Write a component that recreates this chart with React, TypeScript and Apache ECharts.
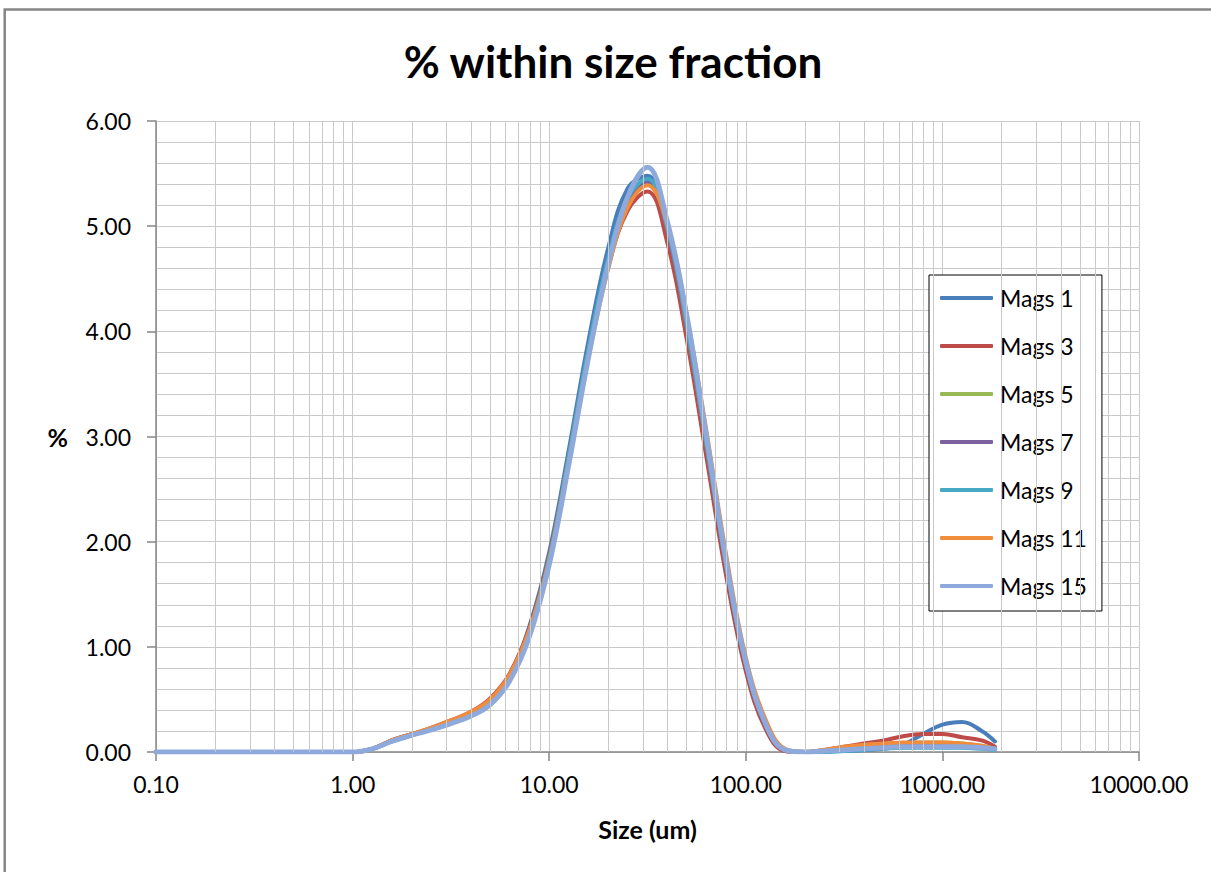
import React, { useEffect, useRef } from "react";
import * as echarts from "echarts";

const sizes = [
  0.1, 0.126, 0.158, 0.2, 0.251, 0.316, 0.398, 0.501, 0.631, 0.794,
  1, 1.26, 1.58, 2.0, 2.51, 3.16, 3.98, 5.01, 6.31, 7.94,
  10, 12.6, 15.8, 20, 25.1, 31.6, 39.8, 50.1, 63.1, 79.4,
  100, 126, 158, 200, 251, 316, 398, 501, 631, 794,
  1000, 1259, 1585, 1850,
];

const mags1 = [
  0, 0, 0, 0, 0, 0, 0, 0, 0, 0, 0,
  0.03, 0.11, 0.17, 0.22, 0.29, 0.37, 0.49, 0.74, 1.2,
  1.9, 2.88, 3.9, 4.8, 5.36, 5.48, 4.95, 4.05, 2.9, 1.74,
  0.8, 0.24, 0.01, 0, 0.01, 0.01, 0.02, 0.03, 0.07, 0.17,
  0.26, 0.285, 0.2, 0.1,
];
const mags3 = [
  0, 0, 0, 0, 0, 0, 0, 0, 0, 0, 0,
  0.03, 0.11, 0.17, 0.23, 0.3, 0.38, 0.51, 0.75, 1.18,
  1.86, 2.82, 3.8, 4.62, 5.15, 5.33, 4.85, 3.92, 2.8, 1.68,
  0.77, 0.22, 0.01, 0, 0.02, 0.05, 0.08, 0.11, 0.15, 0.17,
  0.17, 0.14, 0.11, 0.05,
];
const mags5 = [
  0, 0, 0, 0, 0, 0, 0, 0, 0, 0, 0,
  0.03, 0.1, 0.16, 0.22, 0.28, 0.36, 0.48, 0.72, 1.15,
  1.83, 2.8, 3.8, 4.68, 5.25, 5.44, 4.98, 4.05, 2.92, 1.78,
  0.84, 0.26, 0.02, 0, 0.01, 0.02, 0.04, 0.06, 0.08, 0.09,
  0.09, 0.08, 0.06, 0.03,
];
const mags7 = [
  0, 0, 0, 0, 0, 0, 0, 0, 0, 0, 0,
  0.03, 0.1, 0.16, 0.22, 0.28, 0.36, 0.48, 0.72, 1.15,
  1.83, 2.8, 3.79, 4.66, 5.24, 5.42, 4.97, 4.05, 2.92, 1.77,
  0.83, 0.25, 0.02, 0, 0.01, 0.02, 0.03, 0.05, 0.06, 0.07,
  0.07, 0.06, 0.05, 0.03,
];
const mags9 = [
  0, 0, 0, 0, 0, 0, 0, 0, 0, 0, 0,
  0.03, 0.1, 0.16, 0.22, 0.28, 0.36, 0.48, 0.72, 1.16,
  1.84, 2.82, 3.82, 4.7, 5.27, 5.45, 4.99, 4.06, 2.93, 1.78,
  0.84, 0.26, 0.02, 0, 0, 0.01, 0.02, 0.03, 0.04, 0.04,
  0.04, 0.04, 0.03, 0.02,
];
const mags11 = [
  0, 0, 0, 0, 0, 0, 0, 0, 0, 0, 0,
  0.03, 0.11, 0.17, 0.23, 0.3, 0.38, 0.5, 0.74, 1.16,
  1.82, 2.76, 3.74, 4.6, 5.18, 5.39, 5.02, 4.15, 3.05, 1.88,
  0.9, 0.31, 0.03, 0, 0.02, 0.05, 0.07, 0.08, 0.09, 0.09,
  0.09, 0.08, 0.06, 0.03,
];
const mags15 = [
  0, 0, 0, 0, 0, 0, 0, 0, 0, 0, 0,
  0.03, 0.1, 0.16, 0.21, 0.27, 0.34, 0.45, 0.68, 1.1,
  1.78, 2.74, 3.74, 4.64, 5.28, 5.56, 5.05, 4.15, 3.0, 1.82,
  0.86, 0.27, 0.02, 0, 0.01, 0.02, 0.03, 0.04, 0.05, 0.05,
  0.05, 0.05, 0.04, 0.03,
];

const seriesNames = ["Mags 1", "Mags 3", "Mags 5", "Mags 7", "Mags 9", "Mags 11", "Mags 15"];
const seriesValues = [mags1, mags3, mags5, mags7, mags9, mags11, mags15];
const seriesColors = ["#4A7EBB", "#BE4B48", "#98B954", "#7D60A0", "#46AAC5", "#F08C3A", "#8EA9DB"];

const xTickValues = [0.1, 1, 10, 100, 1000, 10000];
const xTickLabels = ["0.10", "1.00", "10.00", "100.00", "1000.00", "10000.00"];
const yTickValues = [0, 1, 2, 3, 4, 5, 6];
const yTickLabels = ["0.00", "1.00", "2.00", "3.00", "4.00", "5.00", "6.00"];
const minorMultipliers = [2, 3, 4, 5, 6, 7, 8, 9];

const FONT = "Lato, 'Open Sans', sans-serif";
const GRID_COLOR = "#C9C9C9";
const AXIS_COLOR = "#868686";

function labelFor(values: number[], labels: string[], v: number) {
  let best = 0;
  for (let i = 1; i < values.length; i++) {
    if (Math.abs(Math.log10(values[i]) - Math.log10(v)) < Math.abs(Math.log10(values[best]) - Math.log10(v))) best = i;
  }
  return labels[best];
}

export default function App() {
  const ref = useRef<HTMLDivElement>(null);
  useEffect(() => {
    if (!ref.current) return;
    const chart = echarts.init(ref.current, undefined, { renderer: "svg" });

    const minorX: number[] = [];
    for (let d = 0; d < xTickValues.length - 1; d++) {
      for (const m of minorMultipliers) minorX.push(xTickValues[d] * m);
    }

    const series: any[] = [
      {
        name: "_grid",
        type: "line",
        data: [[0.1, 0]],
        symbol: "none",
        lineStyle: { opacity: 0 },
        silent: true,
        z: 1,
        markLine: {
          silent: true,
          symbol: ["none", "none"],
          label: { show: false },
          lineStyle: { color: GRID_COLOR, width: 1, type: "solid" },
          data: minorX.map((v) => ({ xAxis: v })),
        },
      },
    ];
    seriesNames.forEach((name, k) => {
      series.push({
        name,
        type: "line",
        data: sizes.map((s, i) => [s, seriesValues[k][i]]),
        smooth: 0.4,
        symbol: "none",
        showSymbol: false,
        z: 3,
        lineStyle: { color: seriesColors[k], width: k === 6 ? 5 : 4, cap: "round", join: "round" },
        itemStyle: { color: seriesColors[k] },
      });
    });

    chart.setOption({
      animation: false,
      backgroundColor: "#ffffff",
      grid: { left: 156, right: 72, top: 121, bottom: 120, containLabel: false },
      graphic: [
        {
          type: "rect",
          silent: true,
          shape: { x: 4.7, y: 9.5, width: 1400, height: 1000 },
          style: { fill: "none", stroke: AXIS_COLOR, lineWidth: 2.5 },
        },
        {
          type: "text",
          silent: true,
          x: 613,
          y: 61,
          style: {
            text: "% within size fraction",
            font: `bold 44px ${FONT}`,
            fill: "#000000",
            align: "center",
            verticalAlign: "middle",
          },
        },
      ],
      legend: {
        data: seriesNames,
        orient: "vertical",
        left: 929,
        top: 275,
        padding: [11, 15, 13, 11],
        itemWidth: 53,
        itemHeight: 4,
        itemGap: 24,
        icon: "roundRect",
        borderColor: "#000000",
        borderWidth: 1,
        backgroundColor: "#ffffff",
        textStyle: { fontFamily: FONT, fontSize: 23, lineHeight: 24, color: "#000000", padding: [0, 0, 0, 2] },
      },
      xAxis: {
        type: "log",
        logBase: 10,
        min: 0.1,
        max: 10000,
        splitNumber: 5,
        name: "Size (um)",
        nameLocation: "middle",
        nameGap: 64,
        nameTextStyle: { fontFamily: FONT, fontWeight: "bold", fontSize: 25, color: "#000000" },
        axisLine: { show: true, onZero: false, lineStyle: { color: AXIS_COLOR, width: 1.5 } },
        axisTick: { show: true, length: 9, lineStyle: { color: AXIS_COLOR, width: 1.5 } },
        axisLabel: {
          margin: 20,
          fontFamily: FONT,
          fontSize: 23,
          color: "#000000",
          formatter: (v: number) => labelFor(xTickValues, xTickLabels, v),
        },
        splitLine: { show: true, lineStyle: { color: GRID_COLOR, width: 1 } },
        minorTick: { show: false },
        minorSplitLine: { show: false },
      },
      yAxis: {
        type: "value",
        min: 0,
        max: 6,
        interval: 1,
        name: "%",
        nameLocation: "middle",
        nameRotate: 0,
        nameGap: 88,
        nameTextStyle: { fontFamily: FONT, fontWeight: "bold", fontSize: 25, color: "#000000" },
        axisLine: { show: true, lineStyle: { color: AXIS_COLOR, width: 1.5 } },
        axisTick: { show: true, length: 9, lineStyle: { color: AXIS_COLOR, width: 1.5 } },
        axisLabel: {
          margin: 25,
          fontFamily: FONT,
          fontSize: 23,
          color: "#000000",
          formatter: (v: number) => yTickLabels[yTickValues.indexOf(Math.round(v))] ?? v.toFixed(2),
        },
        splitLine: { show: true, lineStyle: { color: GRID_COLOR, width: 1 } },
        minorTick: { show: false, splitNumber: 5 },
        minorSplitLine: { show: true, lineStyle: { color: GRID_COLOR, width: 1 } },
      },
      series,
    });

    return () => chart.dispose();
  }, []);

  return (
    <div
      ref={ref}
      style={{ position: "absolute", left: 0, top: 0, width: 1211, height: 872, background: "#fff" }}
    />
  );
}
